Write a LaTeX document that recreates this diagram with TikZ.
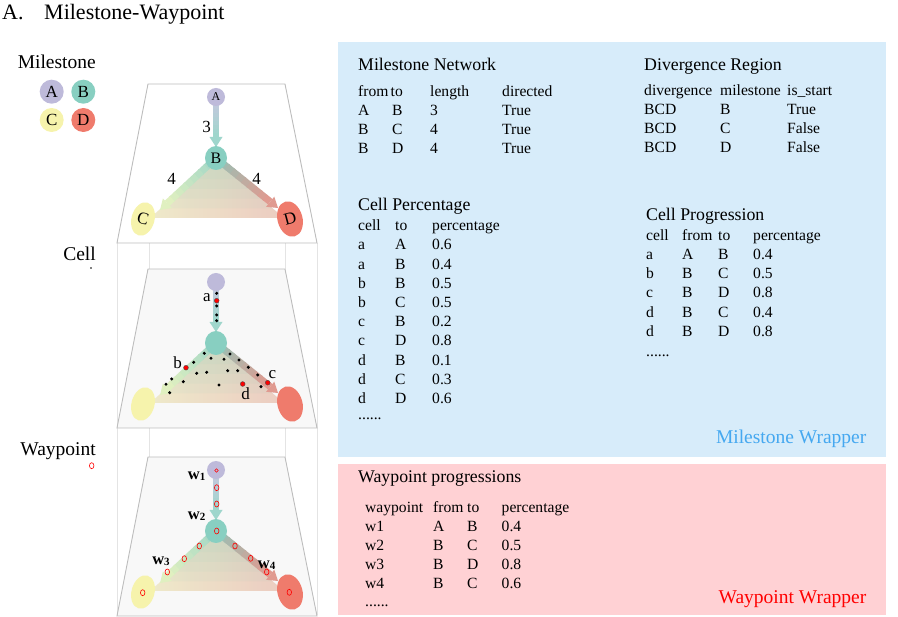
\documentclass[tikz,border=0pt]{standalone}
\usepackage{fontspec}
\setmainfont{Liberation Serif}
\usetikzlibrary{shapes.geometric,calc}
\definecolor{colA}{HTML}{BEBADA}
\definecolor{colB}{HTML}{88CFC1}
\definecolor{colC}{HTML}{F6F3AC}
\definecolor{colD}{HTML}{EF7B6C}
\definecolor{blueBg}{HTML}{D7ECFA}
\definecolor{pinkBg}{HTML}{FFD1D4}
\definecolor{mwText}{HTML}{45A8F0}
\definecolor{panelFill}{HTML}{F8F8F8}
\definecolor{edgeGray}{HTML}{BDBDBD}
\definecolor{vGray}{HTML}{E4E4E4}
\definecolor{abS}{HTML}{C8C6E0}
\definecolor{abE}{HTML}{9FD6CC}
\definecolor{bcS}{HTML}{A2D6C6}
\definecolor{bcE}{HTML}{E0F0C0}
\definecolor{bdS}{HTML}{98C0B4}
\definecolor{bdE}{HTML}{E09A90}
\definecolor{triL}{HTML}{F6ECCB}
\definecolor{triR}{HTML}{F4CCC2}
\newcommand\myfs[1]{\fontsize{#1}{#1}\selectfont}
\newcommand\gradarrow[5]{%
  \path ($(#2)!10pt!(#1)$) coordinate (ga-m);
  \foreach \k in {0,...,9}{%
    \pgfmathsetmacro\ta{\k/10}%
    \pgfmathsetmacro\tb{min(1,(\k+1)/10+0.02)}%
    \pgfmathtruncatemacro\pc{100-\k*100/9}%
    \draw[line width=#5, #3!\pc!#4] ($(#1)!\ta!(ga-m)$) -- ($(#1)!\tb!(ga-m)$);
  }%
  \fill[#4] (#2) -- ($(ga-m)!6.5pt!90:(#2)$) -- ($(ga-m)!6.5pt!-90:(#2)$) -- cycle;
}
\newcommand\drawlayer[2]{%
  \filldraw[panel, fill=#2] (148,84) -- (285,84) -- (317,243) -- (117,243) -- cycle;
  \coordinate (#1tri) at (216,160);
  \coordinate (#1triL) at (150,218);
  \coordinate (#1triR) at (284,218);
  \shade[left color=triL, right color=triR] (#1tri) -- (#1triL) -- (#1triR) -- cycle;
  \foreach \k in {1,...,6}{%
    \pgfmathsetmacro\fr{\k/6}%
    \fill[colB, fill opacity=0.07] (#1tri) -- ($(#1tri)!\fr!(#1triL)$) -- ($(#1tri)!\fr!(#1triR)$) -- cycle;
  }%
  \coordinate (#1sA) at (216,97);
  \coordinate (#1sB) at (216,158);
  \coordinate (#1tAB) at (216,147);
  \coordinate (#1tBC) at (160,210);
  \coordinate (#1tBD) at (278,208);
  \gradarrow{#1sA}{#1tAB}{abS}{abE}{6pt}
  \gradarrow{#1sB}{#1tBC}{bcS}{bcE}{7pt}
  \gradarrow{#1sB}{#1tBD}{bdS}{bdE}{7pt}
}
\tikzset{
  txt/.style={anchor=base west, inner sep=0pt, font=\myfs{15.6}},
  hdr/.style={anchor=base west, inner sep=0pt, font=\myfs{17.8}},
  side/.style={anchor=base east, inner sep=0pt, font=\myfs{19.5}},
  legend/.style={circle, minimum size=24pt, inner sep=0pt, font=\myfs{17}},
  nodeA/.style={circle, fill=colA, minimum size=18pt, inner sep=0pt},
  nodeB/.style={ellipse, fill=colB, minimum width=22pt, minimum height=24pt, inner sep=0pt},
  nodeC/.style={ellipse, fill=colC, minimum width=23pt, minimum height=34pt, inner sep=0pt, rotate=-15},
  nodeD/.style={ellipse, fill=colD, minimum width=25pt, minimum height=36pt, inner sep=0pt, rotate=15},
  cdot/.style={circle, fill=black, minimum size=3.4pt, inner sep=0pt},
  rdot/.style={circle, fill=red, draw=black!70, line width=0.4pt, minimum size=4.8pt, inner sep=0pt},
  wpt/.style={ellipse, draw=red, line width=0.6pt, minimum width=4.5pt, minimum height=6pt, inner sep=0pt},
  lbl/.style={inner sep=0pt, font=\myfs{17}},
  wl/.style={inner sep=0pt, font=\myfs{16.5}\bfseries},
  vline/.style={draw=vGray, line width=0.8pt},
  panel/.style={draw=edgeGray, line width=0.9pt}
}
\begin{document}
\begin{tikzpicture}[x=1pt,y=-1pt]
\useasboundingbox (0,0) rectangle (898,617);
% title
\node[anchor=base west, inner sep=0pt, font=\myfs{22}] (tA) at (2,20) {A.};
\node[anchor=base west, inner sep=0pt, font=\myfs{22}] (tMW) at (44,20) {Milestone-Waypoint};
% left labels
\node[side] (sMil) at (96,68.3) {Milestone};
\node[side] (sCell) at (96,261) {Cell};
\node[side] (sWay) at (96,456) {Waypoint};
\node[cdot, minimum size=1.8pt] (celldot) at (91,268) {};
\node[wpt] (wpdot) at (91.7,465.7) {};
\node[legend, fill=colA] (legA) at (51.7,91.7) {A};
\node[legend, fill=colB] (legB) at (83.3,91.7) {B};
\node[legend, fill=colC] (legC) at (51.7,120) {C};
\node[legend, fill=colD] (legD) at (83.3,120) {D};
% box edges
\draw[vline] (117,243) -- (117,615);
\draw[vline] (317,243) -- (317,615);
\draw[vline] (149,243) -- (149,269);
\draw[vline] (285,243) -- (285,269);
\draw[vline] (149,427) -- (149,457);
\draw[vline] (285,427) -- (285,457);
% layer 1
\begin{scope}
\drawlayer{m}{white}
\node[nodeA, font=\myfs{12}] (mA) at (216,97) {A};
\node[nodeB, font=\myfs{16}] (mB) at (216,158) {B};
\node[nodeC, font=\myfs{17}] (mC) at (143,219) {C};
\node[nodeD, font=\myfs{17}] (mD) at (290,219) {D};
\node[lbl] (m3) at (206.7,127.3) {3};
\node[lbl] (m4a) at (171.7,179.3) {4};
\node[lbl] (m4b) at (256.7,179.3) {4};
\end{scope}
% layer 2
\begin{scope}[shift={(0,185)}]
\drawlayer{c}{panelFill}
\node[nodeA] (cA) at (216,97) {};
\node[nodeB] (cB) at (216,158) {};
\node[nodeC] (cC) at (143,219) {};
\node[nodeD] (cD) at (290,219) {};
\end{scope}
\foreach \x/\y [count=\i] in {216.7/293.3, 216.7/306, 216.7/315, 216.7/320.7, 204.3/353.3, 211/358.3, 224/359.3, 230/354, 239/360, 248.3/367.3, 257.7/375, 261/386.7, 237.7/370.7, 227.7/370.7, 219/385, 206.7/372.3, 196.7/373.3, 193.7/362.3, 183.3/381.7, 171.7/379, 166/384.3, 169.7/392.7}
  \node[cdot] (cd\i) at (\x,\y) {};
\node[rdot] (cella) at (216.7,300.7) {};
\node[rdot] (cellb) at (186,367.7) {};
\node[rdot] (cellc) at (267.7,382.7) {};
\node[rdot] (celld) at (242.7,384) {};
\node[lbl] (la) at (207,298) {a};
\node[lbl] (lb) at (177.7,363) {b};
\node[lbl] (lc) at (272.3,375) {c};
\node[lbl] (ld) at (245.7,393.3) {d};
% layer 3
\begin{scope}[shift={(0,373)}]
\drawlayer{w}{panelFill}
\node[nodeA] (wA) at (216,97) {};
\node[nodeB] (wB) at (216,158) {};
\node[nodeC] (wC) at (143,219) {};
\node[nodeD] (wD) at (290,219) {};
\end{scope}
\node[wpt, minimum width=3.5pt, minimum height=3.5pt] (wp0) at (216.5,470.5) {};
\foreach \x/\y [count=\i] in {216.7/487.7, 216.7/504, 216.7/531, 199.3/546, 184.3/558.7, 167.3/572, 142.7/592.7, 235/546, 250.7/558.3, 266.7/572, 289.3/592.3}
  \node[wpt] (wp\i) at (\x,\y) {};
\node[wl] (wl1) at (196.7,476) {w\raisebox{-1pt}{\myfs{11}\bfseries 1}};
\node[wl] (wl2) at (196.7,516.7) {w\raisebox{-1pt}{\myfs{11}\bfseries 2}};
\node[wl] (wl3) at (161,561.7) {w\raisebox{-1pt}{\myfs{11}\bfseries 3}};
\node[wl] (wl4) at (266.7,565.7) {w\raisebox{-1pt}{\myfs{11}\bfseries 4}};
% right boxes
\node[fill=blueBg, minimum width=548pt, minimum height=415pt, anchor=north west, inner sep=0pt] (mwbox) at (338,42) {};
\node[fill=pinkBg, minimum width=548pt, minimum height=151pt, anchor=north west, inner sep=0pt] (wwbox) at (338,464) {};
% Milestone Network
\node[hdr] (hMN) at (358,70.5) {Milestone Network};
\node[txt] (mn-h1) at (358,96.5) {from};
\node[txt] (mn-h2) at (390.5,96.5) {to};
\node[txt] (mn-h3) at (430,96.5) {length};
\node[txt] (mn-h4) at (502,96.5) {directed};
\foreach \a/\b/\c/\d [count=\i] in {A/B/3/True, B/C/4/True, B/D/4/True}{
  \node[txt] (mn-\i-1) at (358,{116+18.8*(\i-1)}) {\a};
  \node[txt] (mn-\i-2) at (392,{116+18.8*(\i-1)}) {\b};
  \node[txt] (mn-\i-3) at (430,{116+18.8*(\i-1)}) {\c};
  \node[txt] (mn-\i-4) at (502,{116+18.8*(\i-1)}) {\d};
}
% Divergence Region
\node[hdr] (hDR) at (644,70.5) {Divergence Region};
\node[txt] (dr-h1) at (644,96) {divergence};
\node[txt] (dr-h2) at (720,96) {milestone};
\node[txt] (dr-h3) at (787,96) {is\_start};
\foreach \a/\b/\c [count=\i] in {BCD/B/True, BCD/C/False, BCD/D/False}{
  \node[txt] (dr-\i-1) at (644,{115+19*(\i-1)}) {\a};
  \node[txt] (dr-\i-2) at (720,{115+19*(\i-1)}) {\b};
  \node[txt] (dr-\i-3) at (787,{115+19*(\i-1)}) {\c};
}
% Cell Percentage
\node[hdr] (hCP) at (358,210.5) {Cell Percentage};
\node[txt] (cp-h1) at (358,230.5) {cell};
\node[txt] (cp-h2) at (395,230.5) {to};
\node[txt] (cp-h3) at (432,230.5) {percentage};
\foreach \a/\b/\c [count=\i] in {a/A/0.6, a/B/0.4, b/B/0.5, b/C/0.5, c/B/0.2, c/D/0.8, d/B/0.1, d/C/0.3, d/D/0.6}{
  \node[txt] (cp-\i-1) at (358,{250+19.2*(\i-1)}) {\a};
  \node[txt] (cp-\i-2) at (395,{250+19.2*(\i-1)}) {\b};
  \node[txt] (cp-\i-3) at (432,{250+19.2*(\i-1)}) {\c};
}
\node[txt] (cp-dots) at (358,420) {......};
% Cell Progression
\node[hdr] (hCG) at (646,220.5) {Cell Progression};
\node[txt] (cg-h1) at (646,240.5) {cell};
\node[txt] (cg-h2) at (682,240.5) {from};
\node[txt] (cg-h3) at (718,240.5) {to};
\node[txt] (cg-h4) at (753,240.5) {percentage};
\foreach \a/\b/\c/\d [count=\i] in {a/A/B/0.4, b/B/C/0.5, c/B/D/0.8, d/B/C/0.4, d/B/D/0.8}{
  \node[txt] (cg-\i-1) at (646,{259.3+19.3*(\i-1)}) {\a};
  \node[txt] (cg-\i-2) at (682,{259.3+19.3*(\i-1)}) {\b};
  \node[txt] (cg-\i-3) at (718,{259.3+19.3*(\i-1)}) {\c};
  \node[txt] (cg-\i-4) at (753,{259.3+19.3*(\i-1)}) {\d};
}
\node[txt] (cg-dots) at (646,356.5) {......};
\node[anchor=base east, inner sep=0pt, font=\myfs{19.5}, text=mwText] (mwl) at (866.5,444) {Milestone Wrapper};
% Waypoint progressions
\node[hdr] (hWP) at (358,482.7) {Waypoint progressions};
\node[txt] (wp-h1) at (365,512.3) {waypoint};
\node[txt] (wp-h2) at (433,512.3) {from};
\node[txt] (wp-h3) at (467,512.3) {to};
\node[txt] (wp-h4) at (501.5,512.3) {percentage};
\foreach \a/\b/\c/\d [count=\i] in {w1/A/B/0.4, w2/B/C/0.5, w3/B/D/0.8, w4/B/C/0.6}{
  \node[txt] (wpt-\i-1) at (365,{531.7+19*(\i-1)}) {\a};
  \node[txt] (wpt-\i-2) at (433,{531.7+19*(\i-1)}) {\b};
  \node[txt] (wpt-\i-3) at (467,{531.7+19*(\i-1)}) {\c};
  \node[txt] (wpt-\i-4) at (501.5,{531.7+19*(\i-1)}) {\d};
}
\node[txt] (wp-dots) at (365,606.5) {......};
\node[anchor=base east, inner sep=0pt, font=\myfs{19.5}, text=red] (wwl) at (866.5,603.3) {Waypoint Wrapper};
\end{tikzpicture}
\end{document}
